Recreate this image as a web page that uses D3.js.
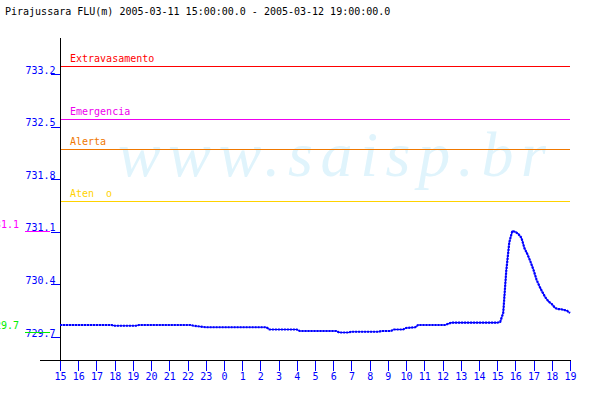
<!DOCTYPE html>
<html><head><meta charset="utf-8">
<script src="https://cdn.jsdelivr.net/npm/d3@7"></script>
<style>
html,body{margin:0;padding:0;background:#fff;}
svg{display:block;}
text{font-family:"DejaVu Sans Mono","Liberation Mono",monospace;font-size:10px;}
</style></head>
<body>
<script>
const title = "Pirajussara FLU(m) 2005-03-11 15:00:00.0 - 2005-03-12 19:00:00.0";
const startTime = "2005-03-11 15:00";
const endTime = "2005-03-12 19:00";
const times = [
 "2005-03-11 15:00","2005-03-11 17:50","2005-03-11 18:00","2005-03-11 19:10","2005-03-11 19:20",
 "2005-03-11 22:10","2005-03-11 22:20","2005-03-11 22:40","2005-03-11 23:00","2005-03-12 02:20",
 "2005-03-12 02:30","2005-03-12 04:00","2005-03-12 04:10","2005-03-12 06:10","2005-03-12 06:20",
 "2005-03-12 06:50","2005-03-12 07:00","2005-03-12 08:30","2005-03-12 08:40","2005-03-12 09:10",
 "2005-03-12 09:20","2005-03-12 09:50","2005-03-12 10:00","2005-03-12 10:30","2005-03-12 10:40",
 "2005-03-12 12:10","2005-03-12 12:20","2005-03-12 12:30",
 "2005-03-12 15:00","2005-03-12 15:10","2005-03-12 15:20","2005-03-12 15:30","2005-03-12 15:40",
 "2005-03-12 15:50","2005-03-12 16:00","2005-03-12 16:10","2005-03-12 16:20","2005-03-12 16:30",
 "2005-03-12 16:40","2005-03-12 16:50","2005-03-12 17:00","2005-03-12 17:10","2005-03-12 17:20",
 "2005-03-12 17:30","2005-03-12 17:40","2005-03-12 17:50","2005-03-12 18:00","2005-03-12 18:10",
 "2005-03-12 18:20","2005-03-12 18:30","2005-03-12 18:40","2005-03-12 18:50","2005-03-12 19:00"
];
const levels = [
 729.86,729.86,729.85,729.85,729.86,
 729.86,729.85,729.84,729.83,729.83,
 729.80,729.80,729.78,729.78,729.76,
 729.76,729.77,729.77,729.78,729.78,
 729.80,729.80,729.82,729.83,729.86,
 729.86,729.88,729.89,
 729.89,729.90,730.02,730.58,730.96,
 731.11,731.10,731.07,731.02,730.88,
 730.80,730.70,730.59,730.46,730.37,
 730.29,730.22,730.17,730.14,730.09,
 730.07,730.07,730.06,730.05,730.02
];
const yTicks = [729.7, 730.4, 731.1, 731.8, 732.5, 733.2];
const thresholdNames = ["Extravasamento", "Emergencia", "Alerta", "Aten  o"];
const thresholdValues = [733.31, 732.60, 732.20, 731.51];
const thresholdColors = ["#ff0000", "#ee00ee", "#f07800", "#ffd200"];
const watermark = "www.saisp.br";

const W = 600, H = 400;
const parse = d3.timeParse("%Y-%m-%d %H:%M");
const data = times.map((t, i) => ({t: parse(t), v: levels[i]}));

const svg = d3.select("body").append("svg").attr("width", W).attr("height", H);

const x = d3.scaleTime().domain([parse(startTime), parse(endTime)]).range([60, 570]);
const y = d3.scaleLinear().domain([729.7, 733.2]).range([337, 74]);

// watermark
svg.append("text").attr("x", 118).attr("y", 176)
  .style("font-family", "'Liberation Serif','DejaVu Serif',serif")
  .style("font-style", "italic").style("font-size", "64px")
  .attr("textLength", 428).attr("lengthAdjust", "spacing")
  .attr("fill", "#e0f4fc").text(watermark);

// title
svg.append("text").attr("x", 5).attr("y", 15).attr("fill", "#000").text(title);

// thresholds
thresholdValues.forEach((v, i) => {
  const yy = Math.round(y(v)) + 0.5;
  svg.append("line").attr("x1", 60).attr("x2", 570).attr("y1", yy).attr("y2", yy)
    .attr("stroke", thresholdColors[i]).attr("stroke-width", 1).attr("shape-rendering", "crispEdges");
  svg.append("text").attr("x", 70).attr("y", yy - 5).attr("fill", thresholdColors[i])
    .style("white-space", "pre").attr("xml:space", "preserve").text(thresholdNames[i]);
});

// y axis
const yAxis = d3.axisLeft(y).tickValues(yTicks).tickSize(10).tickFormat(d3.format(".1f"));
const gy = svg.append("g").attr("transform", "translate(60.5,0)").call(yAxis);
gy.select(".domain").remove();
gy.selectAll(".tick line").attr("stroke", "#0000ff").attr("shape-rendering", "crispEdges");
gy.selectAll(".tick text").attr("fill", "#0000ff").attr("x", -5).attr("dy", null).attr("y", -1)
  .style("font-family", "'DejaVu Sans Mono',monospace").style("font-size", "10px");

// x axis
const xAxis = d3.axisBottom(x).ticks(d3.timeHour.every(1)).tickSize(10).tickFormat(d3.timeFormat("%-H"));
const gx = svg.append("g").attr("transform", "translate(0,360.5)").call(xAxis);
gx.select(".domain").remove();
gx.selectAll(".tick line").attr("stroke", "#0000ff").attr("shape-rendering", "crispEdges");
gx.selectAll(".tick text").attr("fill", "#0000ff").attr("dy", null).attr("y", 19)
  .style("font-family", "'DejaVu Sans Mono',monospace").style("font-size", "10px");

// axis lines
svg.append("line").attr("x1", 60.5).attr("x2", 60.5).attr("y1", 38).attr("y2", 361)
  .attr("stroke", "#000").attr("shape-rendering", "crispEdges");
svg.append("line").attr("x1", 40).attr("x2", 571).attr("y1", 360.5).attr("y2", 360.5)
  .attr("stroke", "#000").attr("shape-rendering", "crispEdges");

// min / max markers
const vMax = d3.max(levels), vMin = d3.min(levels);
const trunc = v => (Math.floor(v * 10) / 10).toFixed(1);
[[vMax, "#ff00ff", -4], [vMin, "#00ee00", -4]].forEach(([v, c, off]) => {
  const yy = Math.round(y(v)) + 0.5;
  svg.append("line").attr("x1", 25).attr("x2", 50).attr("y1", yy).attr("y2", yy)
    .attr("stroke", c).attr("shape-rendering", "crispEdges");
  svg.append("text").attr("x", 19).attr("y", yy + off).attr("text-anchor", "end")
    .attr("fill", c).text(trunc(v));
});

// data line
const line = d3.line().x(d => x(d.t)).y(d => y(d.v));
svg.append("path").datum(data).attr("d", line).attr("fill", "none")
  .attr("stroke", "#0000ff").attr("stroke-width", 1.2);
svg.append("path").datum(data).attr("d", line).attr("fill", "none")
  .attr("stroke", "#0000ff").attr("stroke-width", 2.2).attr("stroke-dasharray", "2,1");
</script>
</body></html>
